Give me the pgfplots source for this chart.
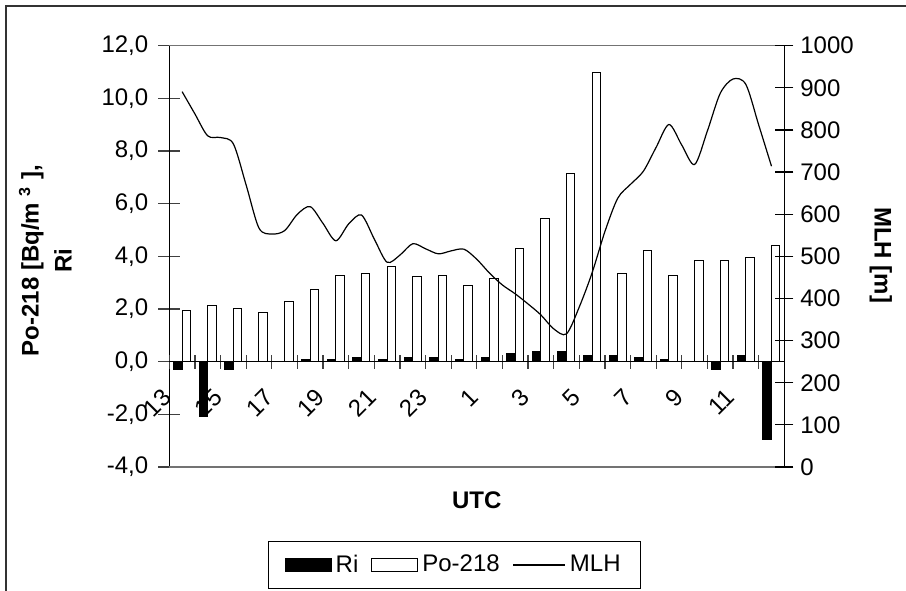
\documentclass[border=0pt]{standalone}
\usepackage{pgfplots}
\usepackage{pgfplotstable}
\pgfplotsset{compat=1.18}
\usepackage{fontspec}
\setmainfont{Liberation Sans}

\pgfplotstableread{
i Ri Po
0 -0.28 1.94
1 -2.08 2.14
2 -0.28 2.01
3 0 1.87
4 0 2.27
5 0.09 2.76
6 0.09 3.28
7 0.15 3.34
8 0.09 3.61
9 0.15 3.22
10 0.15 3.28
11 0.09 2.89
12 0.15 3.15
13 0.32 4.29
14 0.37 5.43
15 0.37 7.16
16 0.23 10.99
17 0.23 3.35
18 0.16 4.22
19 0.09 3.29
20 0 3.84
21 -0.28 3.84
22 0.23 3.96
23 -2.95 4.43
}\bardata

\pgfplotstableread{
x mlh
0 891
0.5 838
1 786
1.5 782
2 767
2.5 669
3 567
3.5 553
4 561
4.5 600
5 618
5.5 578
6 537
6.5 577
7 598
7.5 541
8 486
8.5 503
9 530
9.5 518
10 506
10.5 513
11 517
11.5 493
12 460
12.5 432
13 411
13.5 387
14 361
14.5 328
15 316
15.5 380
16 461
16.5 559
17 638
17.5 671
18 702
18.5 759
19 813
19.5 764
20 718
20.5 798
21 887
21.5 921
22 908
22.5 812
23 714
}\mlhdata

\pgfplotsset{
  every axis/.append style={font=\fontsize{12}{14.4}\selectfont},
  common/.style={
    at={(84.65pt,61.5pt)}, anchor=south west,
    scale only axis, width=307.5pt, height=210.65pt,
    xmin=-0.5, xmax=23.5,
  },
}

\begin{document}
\begin{tikzpicture}
\useasboundingbox (0,0) rectangle (453pt,295pt);
\draw[black!80, line width=0.6pt] (3pt,-5pt) -- (3pt,292pt) -- (470pt,292pt);

% left axis with bars
\begin{axis}[
  common,
  ymin=-4, ymax=12,
  axis x line=none, axis y line*=left,
  clip=false,
  ybar=0pt, bar width=4.25pt,
  ytick={-4,-2,...,12},
  ytick align=center, major tick length=11pt,
  y axis line style={black, line width=0.6pt},
  ytick style={black!75, line width=0.6pt},
  yticklabel style={xshift=-1.5pt, /pgf/number format/.cd, fixed, fixed zerofill, precision=1, use comma, assume math mode=true},
  every axis y label/.style={at={(axis description cs:-0.195,0.49)}, rotate=90, anchor=center},
  ylabel={\bfseries\begin{tabular}{c}Po-218 [Bq/m \textsuperscript{3} ],\\[2pt] Ri\end{tabular}},
]
\draw[black!55, line width=0.8pt] (rel axis cs:0,1) -- (rel axis cs:1,1);
\draw[black!55, line width=0.8pt] (rel axis cs:0,0) -- (rel axis cs:1,0);
\addplot[fill=black, draw=black, line width=0.5pt] table[x=i, y=Ri]{\bardata};
\addplot[fill=white, draw=black, line width=0.5pt] table[x=i, y=Po]{\bardata};
\end{axis}

% x axis at zero
\begin{axis}[
  common,
  ymin=-4, ymax=12,
  axis y line=none, axis x line*=middle,
  x axis line style={black, line width=0.6pt, -},
  xtick={-0.5,0.5,...,23.5},
  xticklabels={13,,15,,17,,19,,21,,23,,1,,3,,5,,7,,9,,11,,},
  xtick align=center, major tick length=7pt,
  xtick style={black!75, line width=0.6pt},
  hide obscured x ticks=false,
  xticklabel style={xshift=-4.3pt, yshift=-9.2pt, rotate=45, anchor=north east, inner sep=0pt},
  every axis x label/.style={at={(axis description cs:0.5,-0.078)}, anchor=center},
  xlabel={\bfseries UTC},
]
\addplot[draw=none] coordinates {(0,0)};
\end{axis}

% right axis with MLH
\begin{axis}[
  common,
  ymin=0, ymax=1000,
  axis x line=none, axis y line*=right,
  ytick={0,100,...,1000},
  ytick align=center, major tick length=9pt,
  y axis line style={black, line width=0.6pt},
  ytick style={black, line width=0.6pt},
  yticklabel style={/pgf/number format/.cd, fixed, 1000 sep={}, assume math mode=true},
  every axis y label/.style={at={(axis description cs:1.157,0.503)}, rotate=-90, anchor=center},
  ylabel={\bfseries MLH [m]},
  legend columns=3,
  legend style={at={(axis description cs:0.464,-0.2326)}, anchor=center,
    draw=black, line width=0.5pt, inner xsep=8pt, inner ysep=4.5pt,
    font=\fontsize{12}{14.4}\selectfont,
    /tikz/every even column/.append style={column sep=4.5pt}},
]
\addlegendimage{legend image code/.code={\draw[fill=black, draw=black, line width=0.5pt] (0pt,-3.25pt) rectangle (23pt,3.25pt);}}
\addlegendentry{Ri}
\addlegendimage{legend image code/.code={\draw[fill=white, draw=black, line width=0.5pt] (0pt,-3.25pt) rectangle (23pt,3.25pt);}}
\addlegendentry{Po-218}
\addplot[black, line width=0.6pt, smooth, tension=0.5,
  legend image code/.code={\draw[black, line width=0.6pt] (0pt,0pt) -- (26pt,0pt);}]
  table[x=x, y=mlh]{\mlhdata};
\addlegendentry{MLH}
\end{axis}
\end{tikzpicture}
\end{document}
